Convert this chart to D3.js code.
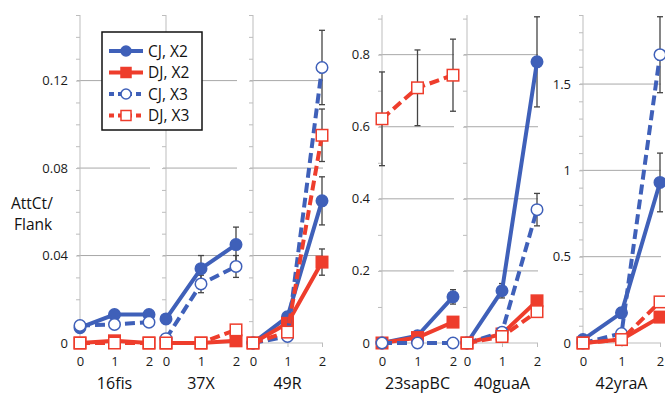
<!DOCTYPE html>
<html>
<head>
<meta charset="utf-8">
<script src="https://cdn.jsdelivr.net/npm/d3@7"></script>
<style>
  body { margin: 0; background: #fff; }
  svg { display: block; font-family: "Open Sans", "Liberation Sans", sans-serif; }
</style>
</head>
<body>
<div id="chart"></div>
<script>
// x positions (generation) and panel names
const xVals = [0, 1, 2];
const genes = ['16fis', '37X', '49R', '23sapBC', '40guaA', '42yraA'];
const seriesNames = ['CJ, X2', 'DJ, X2', 'CJ, X3', 'DJ, X3'];

// values per gene
const cjX2 = [[0.007, 0.013, 0.013], [0.011, 0.034, 0.045], [0, 0.012, 0.065], [0, 0.02, 0.128], [0, 0.145, 0.78], [0.02, 0.175, 0.93]];
const cjX2Err = [[0.001, 0.002, 0.002], [0.002, 0.006, 0.008], [0, 0.002, 0.011], [0, 0.004, 0.02], [0, 0.02, 0.125], [0.01, 0.03, 0.17]];
const djX2 = [[0, 0.001, 0], [0, 0, 0.001], [0, 0.009, 0.037], [0, 0.015, 0.058], [0, 0.025, 0.117], [0, 0.02, 0.15]];
const djX2Err = [[0, 0, 0], [0, 0, 0.001], [0, 0.001, 0.006], [0, 0.002, 0.004], [0, 0.003, 0.01], [0, 0.005, 0.015]];
const cjX3 = [[0.008, 0.0085, 0.0095], [0.002, 0.027, 0.035], [0, 0.003, 0.126], [0, 0, 0], [0, 0.03, 0.37], [0, 0.055, 1.67]];
const cjX3Err = [[0.001, 0.001, 0.001], [0.001, 0.004, 0.005], [0, 0.001, 0.017], [0, 0, 0], [0, 0.005, 0.045], [0, 0.01, 0.22]];
const djX3 = [[0, 0, 0], [0, 0, 0.006], [0, 0.005, 0.095], [0.622, 0.708, 0.743], [0, 0.018, 0.087], [0, 0.02, 0.238]];
const djX3Err = [[0, 0, 0], [0, 0, 0.001], [0, 0.001, 0.012], [0.13, 0.105, 0.1], [0, 0.002, 0.008], [0, 0.005, 0.02]];

// y axis tick labels for the three scale groups
const ticksSmall = [0, 0.04, 0.08, 0.12];
const ticksMid = [0, 0.2, 0.4, 0.6, 0.8];
const ticksLarge = [0, 0.5, 1, 1.5];

const width = 665, height = 395;
const blue = '#3f60b9', red = '#ee3d2c';

// panel layout (pixels), and which y scale group each uses
const panels = [
  { x0: 80,  x1: 149, ymax: 0.15, step: 0.01, ticks: ticksSmall, labels: true },
  { x0: 166, x1: 236, ymax: 0.15, step: 0.01, ticks: ticksSmall, labels: false },
  { x0: 253, x1: 322, ymax: 0.15, step: 0.01, ticks: ticksSmall, labels: false },
  { x0: 382, x1: 453, ymax: 0.91, step: 0.1, ticks: ticksMid, labels: true },
  { x0: 467, x1: 537, ymax: 0.91, step: 0.1, ticks: ticksMid, labels: false },
  { x0: 583, x1: 660, ymax: 1.9, step: 0.1, ticks: ticksLarge, labels: true }
];

const series = [
  { name: seriesNames[0], vals: cjX2, err: cjX2Err, color: blue, shape: 'circle', filled: true, dash: null },
  { name: seriesNames[1], vals: djX2, err: djX2Err, color: red, shape: 'square', filled: true, dash: null },
  { name: seriesNames[2], vals: cjX3, err: cjX3Err, color: blue, shape: 'circle', filled: false, dash: '10,5' },
  { name: seriesNames[3], vals: djX3, err: djX3Err, color: red, shape: 'square', filled: false, dash: '10,5' }
];

const yBottom = 343, yTop = 15;

let svg = d3.select('#chart').append('svg')
  .attr('width', width)
  .attr('height', height);

function drawMarker(g, s, cx, cy, size) {
  if (s.shape === 'circle') {
    g.append('circle')
      .attr('cx', cx).attr('cy', cy).attr('r', size / 2)
      .attr('fill', s.filled ? s.color : '#fff')
      .attr('stroke', s.color).attr('stroke-width', 1.5);
  } else {
    g.append('rect')
      .attr('x', cx - size / 2).attr('y', cy - size / 2)
      .attr('width', size).attr('height', size)
      .attr('fill', s.filled ? s.color : '#fff')
      .attr('stroke', s.color).attr('stroke-width', 1.5);
  }
}

panels.forEach(function (p, i) {
  let x = d3.scaleLinear().domain([0, 2]).range([p.x0, p.x1]);
  let y = d3.scaleLinear().domain([0, p.ymax]).range([yBottom, yTop]);
  let g = svg.append('g');

  // horizontal gridlines
  g.selectAll('line.grid')
    .data(p.ticks.filter(function (t) { return t > 0; }))
    .enter().append('line')
    .attr('class', 'grid')
    .attr('x1', p.x0 - 3).attr('x2', p.x1 + 1)
    .attr('y1', function (d) { return y(d); })
    .attr('y2', function (d) { return y(d); })
    .attr('stroke', '#a8a8a8').attr('stroke-width', 1);

  // vertical axis with minor ticks
  let yAxis = d3.axisLeft(y)
    .tickValues(d3.range(0, p.ymax + 1e-9, p.step))
    .tickSize(4)
    .tickFormat('');
  let ya = g.append('g').attr('transform', 'translate(' + p.x0 + ',0)').call(yAxis);
  ya.select('.domain').attr('stroke', '#bdbdbd').attr('d', 'M0,' + yBottom + 'V' + yTop);
  ya.selectAll('.tick line').attr('stroke', '#bdbdbd');

  // y tick labels
  if (p.labels) {
    g.selectAll('text.ylab')
      .data(p.ticks)
      .enter().append('text')
      .attr('class', 'ylab')
      .attr('x', p.x0 - 12)
      .attr('y', function (d) { return y(d); })
      .attr('dy', '0.35em')
      .attr('text-anchor', 'end')
      .attr('font-size', 13)
      .attr('fill', '#1a1a1a')
      .text(function (d) { return d3.format('~g')(d); });
  }

  // x axis
  let xAxis = d3.axisBottom(x).tickValues(xVals).tickSize(4).tickPadding(10).tickFormat(d3.format('d'));
  let xa = g.append('g').attr('transform', 'translate(0,' + yBottom + ')').call(xAxis);
  xa.select('.domain').attr('stroke', '#bdbdbd').attr('d', 'M' + p.x0 + ',0H' + (p.x1 + 1));
  xa.selectAll('.tick line').attr('stroke', '#bdbdbd');
  xa.selectAll('.tick text')
    .attr('font-size', 13).attr('fill', '#1a1a1a')
    .style('font-family', '"Open Sans", "Liberation Sans", sans-serif');

  // panel label
  g.append('text')
    .attr('x', (p.x0 + p.x1) / 2)
    .attr('y', 389)
    .attr('text-anchor', 'middle')
    .attr('font-size', 16)
    .attr('fill', '#111')
    .text(genes[i]);

  // error bars
  series.forEach(function (s) {
    xVals.forEach(function (xv, j) {
      let v = s.vals[i][j], e = s.err[i][j];
      if (!e) return;
      let cx = x(xv);
      g.append('line')
        .attr('x1', cx).attr('x2', cx)
        .attr('y1', y(v - e)).attr('y2', y(v + e))
        .attr('stroke', '#444').attr('stroke-width', 1.3);
      [v - e, v + e].forEach(function (end) {
        g.append('line')
          .attr('x1', cx - 3).attr('x2', cx + 3)
          .attr('y1', y(end)).attr('y2', y(end))
          .attr('stroke', '#444').attr('stroke-width', 1.3);
      });
    });
  });

  // lines and markers
  let line = d3.line()
    .x(function (d) { return x(d[0]); })
    .y(function (d) { return y(d[1]); });

  series.forEach(function (s) {
    let pts = xVals.map(function (xv, j) { return [xv, s.vals[i][j]]; });
    g.append('path')
      .attr('d', line(pts))
      .attr('fill', 'none')
      .attr('stroke', s.color)
      .attr('stroke-width', 4)
      .attr('stroke-dasharray', s.dash);
    pts.forEach(function (d) {
      drawMarker(g, s, x(d[0]), y(d[1]), 11.5);
    });
  });
});

// y axis title
svg.append('text')
  .attr('x', 11).attr('y', 209)
  .attr('font-size', 15.5).attr('fill', '#111')
  .text('AttCt/');
svg.append('text')
  .attr('x', 14).attr('y', 230)
  .attr('font-size', 15.5).attr('fill', '#111')
  .text('Flank');

// legend
let legend = svg.append('g');
legend.append('rect')
  .attr('x', 102).attr('y', 32)
  .attr('width', 100).attr('height', 98)
  .attr('fill', '#fff')
  .attr('stroke', '#111').attr('stroke-width', 1.5);

series.forEach(function (s, k) {
  let ly = 51 + k * 21.5;
  legend.append('line')
    .attr('x1', 109).attr('x2', 143)
    .attr('y1', ly).attr('y2', ly)
    .attr('stroke', s.color).attr('stroke-width', 3.8)
    .attr('stroke-dasharray', s.dash ? '5,4' : null);
  drawMarker(legend, s, 126, ly, 10);
  legend.append('text')
    .attr('x', 148).attr('y', ly)
    .attr('dy', '0.36em')
    .attr('font-size', 15.5)
    .attr('fill', '#111')
    .text(s.name);
});
</script>
</body>
</html>
